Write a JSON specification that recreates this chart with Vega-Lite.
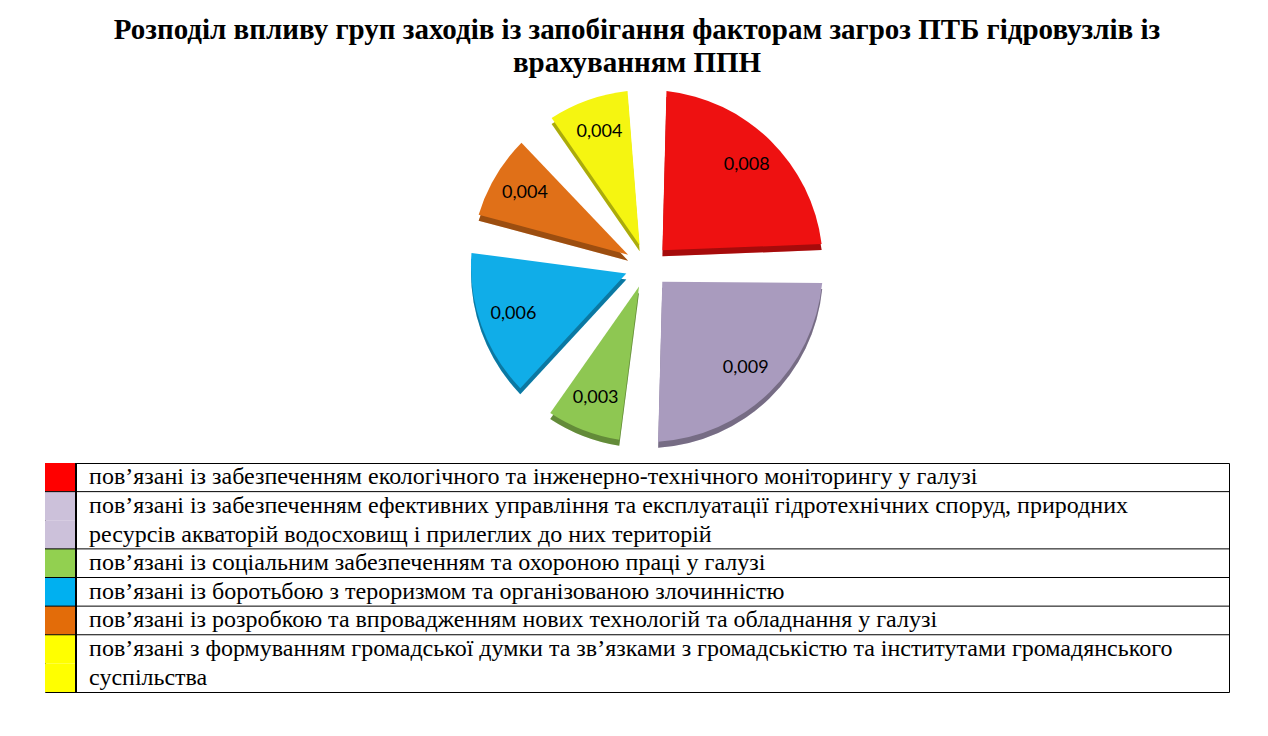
{
  "$schema": "https://vega.github.io/schema/vega-lite/v6.json",
  "padding": {"left": 44, "top": 16, "right": 10, "bottom": 5},
  "background": "white",
  "config": {
    "view": {"stroke": null},
    "locale": {"number": {"decimal": ",", "thousands": " ", "grouping": [3], "currency": ["", ""]}}
  },
  "title": {
    "text": ["Розподіл впливу груп заходів із запобігання факторам загроз ПТБ гідровузлів із", "врахуванням ППН"],
    "font": "Liberation Serif",
    "fontSize": 29,
    "fontWeight": "bold",
    "lineHeight": 33,
    "anchor": "middle",
    "color": "black",
    "offset": 2
  },
  "datasets": {
    "pie": [
      {"k": 1, "g": "екологічний та інженерно-технічний моніторинг", "v": 0.0082},
      {"k": 2, "g": "управління та експлуатація", "v": 0.0086},
      {"k": 3, "g": "соціальне забезпечення та охорона праці", "v": 0.0034},
      {"k": 4, "g": "боротьба з тероризмом", "v": 0.0056},
      {"k": 5, "g": "нові технології та обладнання", "v": 0.0037},
      {"k": 6, "g": "громадська думка", "v": 0.0036}
    ],
    "legend": [
      {"k": 1, "t": "пов’язані із забезпеченням екологічного та інженерно-технічного моніторингу у галузі"},
      {"k": 2, "t": "пов’язані із забезпеченням ефективних управління та експлуатації гідротехнічних споруд, природних"},
      {"k": 2, "t": "ресурсів акваторій водосховищ і прилеглих до них територій"},
      {"k": 3, "t": "пов’язані із соціальним забезпеченням та охороною праці у галузі"},
      {"k": 4, "t": "пов’язані із боротьбою з тероризмом та організованою злочинністю"},
      {"k": 5, "t": "пов’язані із розробкою та впровадженням нових технологій та обладнання у галузі"},
      {"k": 6, "t": "пов’язані з формуванням громадської думки та зв’язками з громадськістю та інститутами громадянського"},
      {"k": 6, "t": "суспільства"}
    ]
  },
  "spacing": 10,
  "resolve": {"scale": {"color": "independent"}},
  "vconcat": [
    {
      "width": 1184,
      "height": 372,
      "data": {"name": "pie"},
      "encoding": {
        "theta": {"field": "v", "type": "quantitative", "stack": true},
        "order": {"field": "k", "type": "quantitative", "sort": "ascending"}
      },
      "layer": [
        {
          "mark": {"type": "arc", "outerRadius": 176, "innerRadius": 22, "padAngle": 0.22, "xOffset": 10, "yOffset": 6},
          "encoding": {
            "color": {"field": "k", "type": "nominal", "legend": null,
              "scale": {"domain": [1, 2, 3, 4, 5, 6], "range": ["#EE1111", "#A99BBE", "#8EC752", "#10ADE8", "#E07018", "#F5F511"]}}
          }
        },
        {
          "mark": {"type": "arc", "outerRadius": 176, "innerRadius": 22, "padAngle": 0.22, "xOffset": 10, "yOffset": 6, "fill": "black", "fillOpacity": 0.3},
          "encoding": {}
        },
        {
          "mark": {"type": "arc", "outerRadius": 176, "innerRadius": 22, "padAngle": 0.22, "xOffset": 10},
          "encoding": {
            "color": {"field": "k", "type": "nominal", "legend": null,
              "scale": {"domain": [1, 2, 3, 4, 5, 6], "range": ["#EE1111", "#A99BBE", "#8EC752", "#10ADE8", "#E07018", "#F5F511"]}}
          }
        },
        {
          "mark": {"type": "text", "radius": 142, "xOffset": 10, "font": "Lato", "fontSize": 18, "color": "black"},
          "encoding": {
            "text": {"field": "v", "type": "quantitative", "format": ".3f"}
          }
        }
      ]
    },
    {
      "width": 1184,
      "height": 229,
      "data": {"name": "legend"},
      "view": {"stroke": "black", "strokeWidth": 1},
      "transform": [
        {"window": [{"op": "row_number", "as": "r"}]},
        {"window": [{"op": "row_number", "as": "rk"}], "groupby": ["k"]}
      ],
      "layer": [
        {
          "mark": {"type": "rect"},
          "encoding": {
            "x": {"datum": 0, "type": "quantitative", "scale": {"domain": [0, 100], "nice": false, "zero": false}, "axis": null},
            "x2": {"datum": 2.62},
            "y": {"field": "r", "type": "ordinal", "axis": null, "scale": {"paddingInner": 0, "paddingOuter": 0}},
            "color": {"field": "k", "type": "nominal", "legend": null,
              "scale": {"domain": [1, 2, 3, 4, 5, 6], "range": ["#FF0000", "#CCC1DA", "#92D050", "#00B0F0", "#E36C09", "#FFFF00"]}}
          }
        },
        {
          "mark": {"type": "text", "align": "left", "baseline": "middle", "font": "Liberation Serif", "fontSize": 24, "color": "black"},
          "encoding": {
            "x": {"datum": 3.72, "type": "quantitative"},
            "y": {"field": "r", "type": "ordinal"},
            "text": {"field": "t"}
          }
        },
        {
          "transform": [{"filter": "datum.rk == 1 && datum.r > 1"}],
          "mark": {"type": "rule", "color": "black", "strokeWidth": 1},
          "encoding": {
            "x": {"datum": 0, "type": "quantitative"},
            "x2": {"datum": 100},
            "y": {"field": "r", "type": "ordinal", "bandPosition": 0}
          }
        },
        {
          "mark": {"type": "rule", "color": "black", "strokeWidth": 1},
          "encoding": {
            "x": {"datum": 2.62, "type": "quantitative"}
          }
        }
      ]
    }
  ]
}
